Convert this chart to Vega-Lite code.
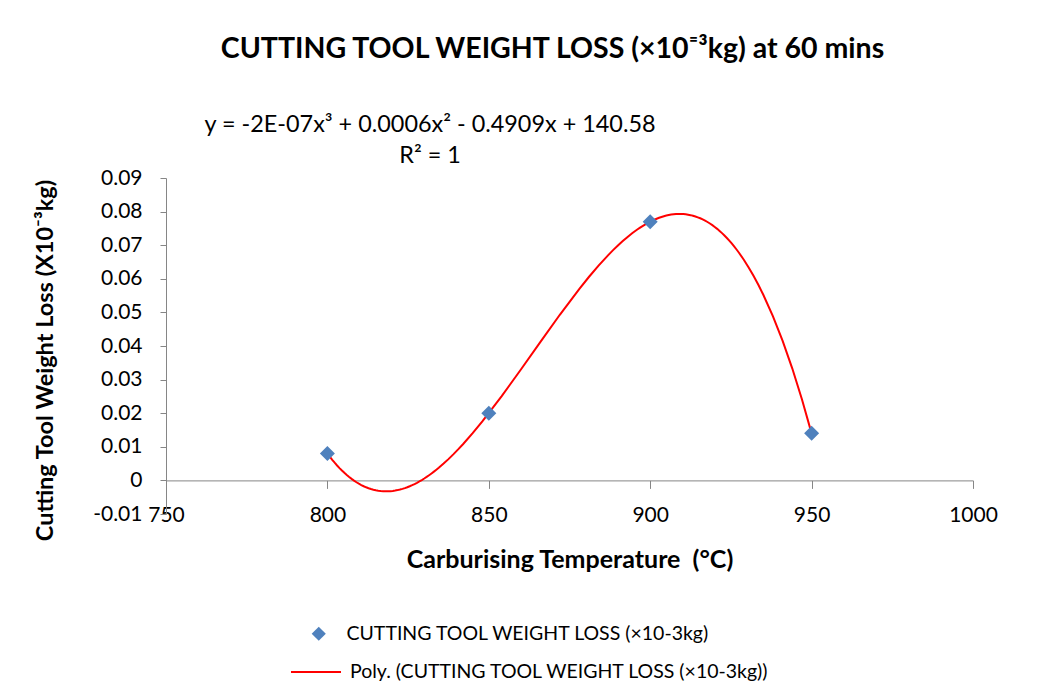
{
  "$schema": "https://vega.github.io/schema/vega-lite/v6.json",
  "width": 807,
  "height": 336,
  "autosize": {"type": "none"},
  "padding": {"left": 166, "top": 178, "right": 68, "bottom": 169},
  "background": "white",
  "config": {
    "view": {"stroke": null},
    "font": "Lato",
    "axis": {
      "grid": false, "domainColor": "#868686", "tickColor": "#868686", "labelColor": "black",
      "labelFont": "Lato", "labelFontSize": 21, "labelOverlap": false, "labelFlush": false,
      "titleFont": "Lato", "titleFontWeight": "bold", "titleColor": "black"
    },
    "legend": {"labelFont": "Lato", "labelFontSize": 19.5, "labelColor": "black", "labelLimit": 800, "padding": 0}
  },
  "title": {
    "text": "CUTTING TOOL WEIGHT LOSS (×10⁼³kg) at 60 mins",
    "font": "Lato", "fontSize": 28.5, "fontWeight": "bold", "color": "black",
    "anchor": "middle", "frame": "group", "dx": -17, "offset": 27, "baseline": "alphabetic"
  },
  "datasets": {
    "weightloss": [
      {"temp": 800, "loss": 0.008},
      {"temp": 850, "loss": 0.020},
      {"temp": 900, "loss": 0.077},
      {"temp": 950, "loss": 0.014}
    ]
  },
  "layer": [
    {
      "data": {"name": "weightloss"},
      "transform": [{"regression": "loss", "on": "temp", "method": "poly", "order": 3}],
      "mark": {"type": "line", "strokeWidth": 2, "clip": false},
      "encoding": {
        "x": {
          "field": "temp", "type": "quantitative",
          "scale": {"domain": [750, 1000], "nice": false, "zero": false},
          "axis": {"title": "Carburising Temperature\u00a0 (°C)", "values": [750, 800, 850, 900, 950, 1000], "format": "d", "offset": -33.6, "tickSize": 8, "labelPadding": 16, "titleFontSize": 25, "titleY": 87, "titleBaseline": "alphabetic"}
        },
        "y": {
          "field": "loss", "type": "quantitative",
          "scale": {"domain": [-0.01, 0.09], "nice": false, "zero": false},
          "axis": {"title": "Cutting Tool Weight Loss (X10⁻³kg)", "values": [-0.01, 0, 0.01, 0.02, 0.03, 0.04, 0.05, 0.06, 0.07, 0.08, 0.09], "labelExpr": "datum.value === 0 ? '0' : replace(format(datum.value, '.2f'), '−', '-')", "tickSize": 6, "labelPadding": 18, "titleFontSize": 23.5, "titleX": -121, "titleY": 182, "titleAlign": "center", "titleBaseline": "middle", "titleAngle": -90}
        },
        "color": {
          "datum": "Poly. (CUTTING TOOL WEIGHT LOSS (×10-3kg))",
          "scale": {"range": ["#FF0000"]},
          "legend": {"orient": "none", "legendX": 124, "legendY": 468, "title": null, "symbolType": "stroke", "symbolSize": 2500, "symbolStrokeWidth": 2, "labelOffset": 8}
        }
      }
    },
    {
      "data": {"name": "weightloss"},
      "mark": {"type": "point", "filled": true, "size": 225, "opacity": 1, "color": "#4F81BD", "clip": false},
      "encoding": {
        "x": {
          "field": "temp", "type": "quantitative",
          "scale": {"domain": [750, 1000], "nice": false, "zero": false},
          "axis": {"title": "Carburising Temperature\u00a0 (°C)", "values": [750, 800, 850, 900, 950, 1000], "format": "d", "offset": -33.6, "tickSize": 8, "labelPadding": 16, "titleFontSize": 25, "titleY": 87, "titleBaseline": "alphabetic"}
        },
        "y": {
          "field": "loss", "type": "quantitative",
          "scale": {"domain": [-0.01, 0.09], "nice": false, "zero": false},
          "axis": {"title": "Cutting Tool Weight Loss (X10⁻³kg)", "values": [-0.01, 0, 0.01, 0.02, 0.03, 0.04, 0.05, 0.06, 0.07, 0.08, 0.09], "labelExpr": "datum.value === 0 ? '0' : replace(format(datum.value, '.2f'), '−', '-')", "tickSize": 6, "labelPadding": 18, "titleFontSize": 23.5, "titleX": -121, "titleY": 182, "titleAlign": "center", "titleBaseline": "middle", "titleAngle": -90}
        },
        "shape": {
          "datum": "CUTTING TOOL WEIGHT LOSS (×10-3kg)",
          "scale": {"range": ["diamond"]},
          "legend": {"orient": "none", "legendX": 143, "legendY": 446, "title": null, "symbolSize": 200, "symbolFillColor": "#4F81BD", "symbolStrokeWidth": 0, "labelOffset": 18}
        }
      }
    },
    {
      "data": {"values": [{"note": "y = -2E-07x³ + 0.0006x² - 0.4909x + 140.58"}]},
      "mark": {"type": "text", "font": "Lato", "fontSize": 23.4, "fill": "black", "align": "center", "baseline": "alphabetic", "clip": false},
      "encoding": {
        "x": {
          "datum": 831.8, "type": "quantitative",
          "scale": {"domain": [750, 1000], "nice": false, "zero": false},
          "axis": {"title": "Carburising Temperature\u00a0 (°C)", "values": [750, 800, 850, 900, 950, 1000], "format": "d", "offset": -33.6, "tickSize": 8, "labelPadding": 16, "titleFontSize": 25, "titleY": 87, "titleBaseline": "alphabetic"}
        },
        "y": {
          "datum": 0.1036, "type": "quantitative",
          "scale": {"domain": [-0.01, 0.09], "nice": false, "zero": false},
          "axis": {"title": "Cutting Tool Weight Loss (X10⁻³kg)", "values": [-0.01, 0, 0.01, 0.02, 0.03, 0.04, 0.05, 0.06, 0.07, 0.08, 0.09], "labelExpr": "datum.value === 0 ? '0' : replace(format(datum.value, '.2f'), '−', '-')", "tickSize": 6, "labelPadding": 18, "titleFontSize": 23.5, "titleX": -121, "titleY": 182, "titleAlign": "center", "titleBaseline": "middle", "titleAngle": -90}
        },
        "text": {"field": "note"}
      }
    },
    {
      "data": {"values": [{"note": "R² = 1"}]},
      "mark": {"type": "text", "font": "Lato", "fontSize": 23.4, "fill": "black", "align": "center", "baseline": "alphabetic", "clip": false},
      "encoding": {
        "x": {
          "datum": 831.8, "type": "quantitative",
          "scale": {"domain": [750, 1000], "nice": false, "zero": false},
          "axis": {"title": "Carburising Temperature\u00a0 (°C)", "values": [750, 800, 850, 900, 950, 1000], "format": "d", "offset": -33.6, "tickSize": 8, "labelPadding": 16, "titleFontSize": 25, "titleY": 87, "titleBaseline": "alphabetic"}
        },
        "y": {
          "datum": 0.0944, "type": "quantitative",
          "scale": {"domain": [-0.01, 0.09], "nice": false, "zero": false},
          "axis": {"title": "Cutting Tool Weight Loss (X10⁻³kg)", "values": [-0.01, 0, 0.01, 0.02, 0.03, 0.04, 0.05, 0.06, 0.07, 0.08, 0.09], "labelExpr": "datum.value === 0 ? '0' : replace(format(datum.value, '.2f'), '−', '-')", "tickSize": 6, "labelPadding": 18, "titleFontSize": 23.5, "titleX": -121, "titleY": 182, "titleAlign": "center", "titleBaseline": "middle", "titleAngle": -90}
        },
        "text": {"field": "note"}
      }
    }
  ]
}
